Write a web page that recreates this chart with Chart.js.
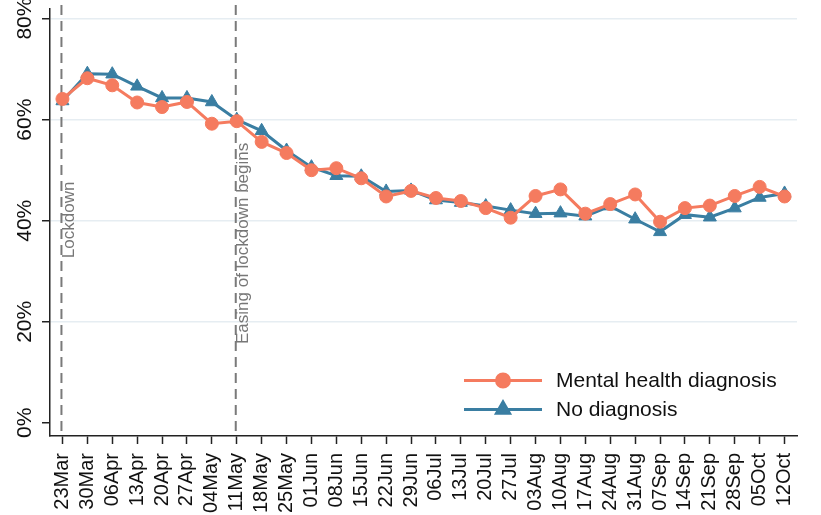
<!DOCTYPE html>
<html>
<head>
<meta charset="utf-8">
<script src="https://cdn.jsdelivr.net/npm/chart.js@4"></script>
<style>
  body { margin: 0; background: #fff; }
  canvas { display: block; }
</style>
</head>
<body>
<canvas id="chart1" width="821" height="515"></canvas>
<script>
// data start ////
var weeks = ["23Mar","30Mar","06Apr","13Apr","20Apr","27Apr","04May","11May","18May","25May",
             "01Jun","08Jun","15Jun","22Jun","29Jun","06Jul","13Jul","20Jul","27Jul","03Aug",
             "10Aug","17Aug","24Aug","31Aug","07Sep","14Sep","21Sep","28Sep","05Oct","12Oct"];

var mentalHealth = [64.1, 68.2, 66.8, 63.4, 62.5, 63.5, 59.2, 59.7, 55.6, 53.4,
                    50.0, 50.4, 48.4, 44.8, 45.9, 44.5, 43.9, 42.5, 40.6, 44.9,
                    46.2, 41.4, 43.3, 45.2, 39.8, 42.5, 43.0, 44.9, 46.7, 44.8];

var noDiagnosis = [63.7, 69.1, 69.0, 66.6, 64.3, 64.3, 63.5, 60.0, 57.8, 53.9,
                   50.6, 48.9, 48.8, 45.8, 46.0, 44.1, 43.6, 42.9, 42.1, 41.4,
                   41.5, 40.9, 42.9, 40.3, 37.8, 41.2, 40.7, 42.5, 44.6, 45.4];

var yTicks = [0, 20, 40, 60, 80];

var eventDates = ["23Mar", "11May"];
var eventLabels = ["Lockdown", "Easing of lockdown begins"];
var eventLabelStart = [32.6, 15.6];
// data end ////

var orange = "#f57b5f";
var blue = "#3a7ea2";
var fontName = "'Liberation Sans', Arial, sans-serif";

// dashed event lines + labels
var eventLines = {
    id: "eventLines",
    beforeDatasetsDraw: function(chart) {
        var ctx = chart.ctx;
        var x = chart.scales.x, y = chart.scales.y;
        ctx.save();
        for (var i = 0; i < eventDates.length; i++) {
            var px = x.getPixelForValue(weeks.indexOf(eventDates[i])) - 1;
            ctx.strokeStyle = "#7a7a7a";
            ctx.lineWidth = 2;
            ctx.setLineDash([10, 6]);
            ctx.beginPath();
            ctx.moveTo(px, 5);
            ctx.lineTo(px, chart.chartArea.bottom);
            ctx.stroke();

            ctx.save();
            ctx.translate(px + 12.5, y.getPixelForValue(eventLabelStart[i]));
            ctx.rotate(-Math.PI / 2);
            ctx.fillStyle = "#777";
            ctx.font = "17px " + fontName;
            ctx.textAlign = "left";
            ctx.textBaseline = "alphabetic";
            ctx.fillText(eventLabels[i], 0, 0);
            ctx.restore();
        }
        ctx.restore();
    }
};

// rotated y labels and legend
var extras = {
    id: "extras",
    afterDraw: function(chart) {
        var ctx = chart.ctx;
        var y = chart.scales.y;
        ctx.save();
        ctx.fillStyle = "#111";
        ctx.font = "21px " + fontName;
        ctx.textAlign = "center";
        ctx.textBaseline = "middle";
        yTicks.forEach(function(v) {
            ctx.save();
            ctx.translate(25, y.getPixelForValue(v));
            ctx.rotate(-Math.PI / 2);
            ctx.fillText(v + "%", 0, 0);
            ctx.restore();
        });
        ctx.restore();

        // legend
        var rows = [
            { text: "Mental health diagnosis", color: orange, style: "circle", y: 380.5 },
            { text: "No diagnosis", color: blue, style: "triangle", y: 409.5 }
        ];
        ctx.save();
        rows.forEach(function(r) {
            ctx.strokeStyle = r.color;
            ctx.lineWidth = 3;
            ctx.setLineDash([]);
            ctx.beginPath();
            ctx.moveTo(464, r.y);
            ctx.lineTo(542, r.y);
            ctx.stroke();
            Chart.helpers.drawPoint(ctx, {
                pointStyle: r.style, radius: r.style === "circle" ? 6.5 : 7.5,
                borderWidth: 1, rotation: 0
            }, 503, r.y);
            ctx.fillStyle = r.color;
            ctx.fill();
            ctx.fillStyle = "#111";
            ctx.font = "21px " + fontName;
            ctx.textAlign = "left";
            ctx.textBaseline = "middle";
            ctx.fillText(r.text, 556, r.y + 1);
        });
        ctx.restore();
    }
};

new Chart(document.getElementById("chart1"), {
    type: "line",
    data: {
        labels: weeks,
        datasets: [
            {
                label: "Mental health diagnosis",
                data: mentalHealth,
                borderColor: orange,
                backgroundColor: orange,
                borderWidth: 3,
                pointStyle: "circle",
                pointRadius: 6.5,
                pointBorderWidth: 1,
                tension: 0,
                fill: false
            },
            {
                label: "No diagnosis",
                data: noDiagnosis,
                borderColor: blue,
                backgroundColor: blue,
                borderWidth: 3,
                pointStyle: "triangle",
                pointRadius: 7.5,
                pointBorderWidth: 1,
                tension: 0,
                fill: false
            }
        ]
    },
    options: {
        responsive: false,
        animation: false,
        layout: { padding: { top: 0, right: 24, left: 0, bottom: 0 } },
        plugins: {
            legend: { display: false },
            tooltip: { enabled: false }
        },
        scales: {
            x: {
                offset: true,
                grid: {
                    drawOnChartArea: false,
                    drawTicks: true,
                    tickLength: 8,
                    tickColor: "#222",
                    tickWidth: 1.5,
                    offset: false
                },
                border: { color: "#222", width: 1.5 },
                ticks: {
                    autoSkip: false,
                    minRotation: 90,
                    maxRotation: 90,
                    padding: 9,
                    color: "#111",
                    font: { family: fontName, size: 20 }
                },
                afterFit: function(scale) { scale.height = 79; }
            },
            y: {
                min: -2.6,
                max: 82.0,
                afterBuildTicks: function(scale) {
                    scale.ticks = yTicks.map(function(v) { return { value: v }; });
                },
                grid: {
                    color: function(c) { return c.tick && c.tick.value === 0 ? "rgba(0,0,0,0)" : "#e6edf2"; },
                    lineWidth: 1.5,
                    drawTicks: true,
                    tickLength: 8,
                    tickColor: "#222",
                    tickWidth: 1.5
                },
                border: { color: "#222", width: 1.5 },
                ticks: { display: false },
                afterFit: function(scale) { scale.width = 50; }
            }
        }
    },
    plugins: [eventLines, extras]
});
</script>
</body>
</html>
